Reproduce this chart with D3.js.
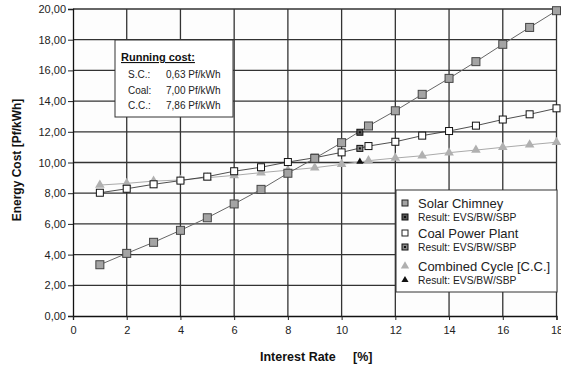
<!DOCTYPE html>
<html lang="en">
<head>
<meta charset="utf-8">
<title>Energy cost vs interest rate</title>
<script src="https://cdn.jsdelivr.net/npm/d3@7"></script>
<style>
  body { margin: 0; background: #fff; }
  svg { font-family: "Liberation Sans", Arial, sans-serif; }
</style>
</head>
<body>
<div id="chart"></div>
<script>
// interest rate [%]
var rates = [1, 2, 3, 4, 5, 6, 7, 8, 9, 10, 11, 12, 13, 14, 15, 16, 17, 18];
var solarChimney = [3.34, 4.08, 4.8, 5.58, 6.4, 7.3, 8.25, 9.3, 10.27, 11.29, 12.38, 13.37, 14.44, 15.48, 16.57, 17.7, 18.8, 19.89];
var coalPlant = [8.03, 8.29, 8.58, 8.82, 9.08, 9.43, 9.69, 10.03, 10.31, 10.66, 11.07, 11.35, 11.75, 12.05, 12.4, 12.8, 13.14, 13.53];
var combinedCycle = [8.53, 8.64, 8.79, 8.86, 9.01, 9.16, 9.34, 9.5, 9.66, 9.88, 10.12, 10.29, 10.44, 10.64, 10.81, 10.99, 11.16, 11.32];
// EVS/BW/SBP results
var resultRate = 10.68;
var resultValues = [11.97, 10.92, 10.05];
var xTicks = [0, 2, 4, 6, 8, 10, 12, 14, 16, 18];
var yTicks = [0, 2, 4, 6, 8, 10, 12, 14, 16, 18, 20];
var runningCost = [["S.C.:", "0,63 Pf/kWh"], ["Coal:", "7,00 Pf/kWh"], ["C.C.:", "7,86 Pf/kWh"]];
var legendNames = ["Solar Chimney", "Coal Power Plant", "Combined Cycle [C.C.]"];

var W = 561, H = 369;
var m = {left: 73, top: 9, right: 4.5, bottom: 53};
var w = W - m.left - m.right, h = H - m.top - m.bottom;

var svg = d3.select("#chart").append("svg").attr("width", W).attr("height", H);
var g = svg.append("g").attr("transform", "translate(" + m.left + "," + m.top + ")");

var x = d3.scaleLinear().domain([0, 18]).range([0, w]);
var y = d3.scaleLinear().domain([0, 20]).range([h, 0]);
var fmt = function(d) { return d3.format(".2f")(d).replace(".", ","); };

g.append("rect").attr("width", w).attr("height", h).attr("fill", "#fdfdfd");

// grid
g.selectAll(".hg").data(yTicks.slice(1)).enter().append("line")
  .attr("x1", 0).attr("x2", w).attr("y1", y).attr("y2", y)
  .attr("stroke", "#333").attr("stroke-width", 1.3);
g.selectAll(".vg").data(xTicks.slice(1)).enter().append("line")
  .attr("x1", x).attr("x2", x).attr("y1", 0).attr("y2", h)
  .attr("stroke", "#333").attr("stroke-width", 1.3);

// axes
var yAxis = g.append("g").call(d3.axisLeft(y).tickValues(yTicks).tickFormat(fmt).tickSize(5).tickPadding(2));
var xAxis = g.append("g").attr("transform", "translate(0," + h + ")")
  .call(d3.axisBottom(x).tickValues(xTicks).tickSize(4).tickPadding(6));
[yAxis, xAxis].forEach(function(a) {
  a.select(".domain").attr("stroke", "#111").attr("stroke-width", 1.3);
  a.selectAll(".tick line").attr("stroke", "#222");
  a.selectAll("text").attr("font-size", 11).attr("fill", "#222")
    .attr("font-family", "Liberation Sans, Arial, sans-serif");
});

var line = d3.line().x(function(d) { return x(d[0]); }).y(function(d) { return y(d[1]); });
function pairs(vals) { return rates.map(function(r, i) { return [r, vals[i]]; }); }

// series lines
g.append("path").datum(pairs(combinedCycle)).attr("d", line).attr("fill", "none").attr("stroke", "#aaa").attr("stroke-width", 1);
g.append("path").datum(pairs(coalPlant)).attr("d", line).attr("fill", "none").attr("stroke", "#222").attr("stroke-width", 0.8);
g.append("path").datum(pairs(solarChimney)).attr("d", line).attr("fill", "none").attr("stroke", "#666").attr("stroke-width", 1);

var tri = d3.symbol().type(d3.symbolTriangle).size(40);
g.selectAll(".cc").data(pairs(combinedCycle)).enter().append("path")
  .attr("d", tri).attr("transform", function(d) { return "translate(" + x(d[0]) + "," + y(d[1]) + ")"; })
  .attr("fill", "#b0b0b0");
g.selectAll(".coal").data(pairs(coalPlant)).enter().append("rect")
  .attr("x", function(d) { return x(d[0]) - 3.5; }).attr("y", function(d) { return y(d[1]) - 3.5; })
  .attr("width", 7).attr("height", 7).attr("fill", "#fff").attr("stroke", "#111").attr("stroke-width", 1);
g.selectAll(".sc").data(pairs(solarChimney)).enter().append("rect")
  .attr("x", function(d) { return x(d[0]) - 4; }).attr("y", function(d) { return y(d[1]) - 4; })
  .attr("width", 8).attr("height", 8).attr("fill", "#a4a4a4").attr("stroke", "#444").attr("stroke-width", 1);

// result markers
function resultSquare(sel, cx, cy, fill) {
  sel.append("rect").attr("x", cx - 3).attr("y", cy - 3).attr("width", 6).attr("height", 6)
    .attr("fill", fill).attr("stroke", "#111").attr("stroke-width", 1);
  sel.append("rect").attr("x", cx - 1).attr("y", cy - 1).attr("width", 2).attr("height", 2).attr("fill", "#111");
}
resultSquare(g, x(resultRate), y(resultValues[0]), "#555");
resultSquare(g, x(resultRate), y(resultValues[1]), "#888");
g.append("path").attr("d", d3.symbol().type(d3.symbolTriangle).size(22))
  .attr("transform", "translate(" + x(resultRate) + "," + y(resultValues[2]) + ")").attr("fill", "#111");

// running cost box
var rb = svg.append("g").attr("transform", "translate(115,40)");
rb.append("rect").attr("width", 118).attr("height", 77).attr("fill", "#fff").attr("stroke", "#333").attr("stroke-width", 1);
rb.append("text").attr("x", 6).attr("y", 21).attr("font-size", 11).attr("font-weight", "bold")
  .attr("text-decoration", "underline").attr("fill", "#111").text("Running cost:");
runningCost.forEach(function(r, i) {
  rb.append("text").attr("x", 13).attr("y", 38 + i * 15.5).attr("font-size", 10).attr("fill", "#222").text(r[0]);
  rb.append("text").attr("x", 51).attr("y", 38 + i * 15.5).attr("font-size", 10).attr("fill", "#222").text(r[1]);
});

// legend
var lg = svg.append("g").attr("transform", "translate(396,190)");
lg.append("rect").attr("width", 161).attr("height", 102).attr("fill", "#fff").attr("stroke", "#333").attr("stroke-width", 1);
var rowY = [13, 43, 76];
legendNames.forEach(function(n, i) {
  var yy = rowY[i];
  if (i < 2) {
    lg.append("rect").attr("x", 6).attr("y", yy - 3).attr("width", 6).attr("height", 6)
      .attr("fill", i == 0 ? "#a4a4a4" : "#fff").attr("stroke", "#222");
    resultSquare(lg, 9, yy + 14, i == 0 ? "#555" : "#888");
  } else {
    lg.append("path").attr("d", d3.symbol().type(d3.symbolTriangle).size(30))
      .attr("transform", "translate(9," + yy + ")").attr("fill", "#b0b0b0");
    lg.append("path").attr("d", d3.symbol().type(d3.symbolTriangle).size(22))
      .attr("transform", "translate(9," + (yy + 14) + ")").attr("fill", "#111");
  }
  lg.append("text").attr("x", 22).attr("y", yy + 4.5).attr("font-size", 13).attr("fill", "#222").text(n);
  lg.append("text").attr("x", 22).attr("y", yy + 17.5).attr("font-size", 10.3).attr("fill", "#222").text("Result: EVS/BW/SBP");
});

// axis titles
svg.append("text").attr("transform", "translate(21,160) rotate(-90)").attr("text-anchor", "middle")
  .attr("font-size", 12).attr("font-weight", "bold").attr("fill", "#111").text("Energy Cost [Pf/kWh]");
svg.append("text").attr("x", 260).attr("y", 361)
  .attr("font-size", 12.5).attr("font-weight", "bold").attr("fill", "#111").text("Interest Rate");
svg.append("text").attr("x", 353).attr("y", 361)
  .attr("font-size", 12.5).attr("font-weight", "bold").attr("fill", "#111").text("[%]");
</script>
</body>
</html>
